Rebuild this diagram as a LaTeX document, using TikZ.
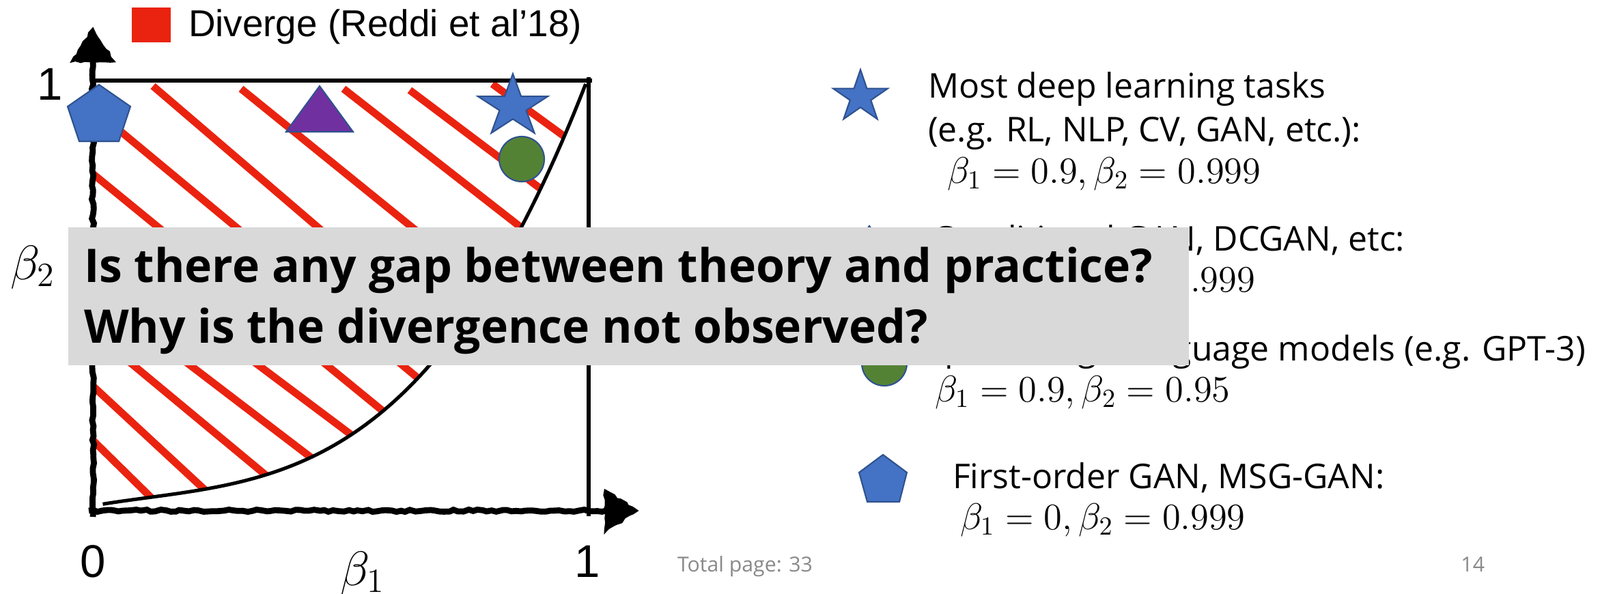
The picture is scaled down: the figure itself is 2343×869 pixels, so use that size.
\RequirePackage{fix-cm}
\documentclass[tikz,border=0pt]{standalone}
\usepackage[no-math]{fontspec}
\setmainfont{Liberation Sans}
\newfontfamily\osfont{Open Sans}
\usetikzlibrary{decorations.pathmorphing}
\definecolor{divred}{RGB}{234,35,16}
\definecolor{pblue}{RGB}{68,114,196}
\definecolor{pborder}{RGB}{47,82,143}
\definecolor{ppurple}{RGB}{112,48,160}
\definecolor{pgreen}{RGB}{84,130,53}
\definecolor{boxgrey}{RGB}{217,217,217}
\definecolor{footgrey}{RGB}{137,137,137}
\newcommand\drawstar[4]{%
  \filldraw[shapeline, fill=pblue] plot[samples at={0,...,9}, variable=\k]
   ({#1+#4*#3*(1-0.618*mod(\k,2))*cos(90+36*\k)},{#2-#3*(1-0.618*mod(\k,2))*sin(90+36*\k)}) -- cycle;}
\begin{document}
\begin{tikzpicture}[x=0.01cm,y=-0.01cm,
  txt/.style={inner sep=0pt, outer sep=0pt},
  stripe/.style={draw=divred, line width=3.1pt, line cap=butt},
  shapeline/.style={draw=pborder, line width=0.6pt, line join=miter},
  roughline/.style={draw=black, line width=2.5pt, decorate, decoration={random steps, segment length=2pt, amplitude=0.45pt}},
  roughfill/.style={fill=black, draw=black, line width=0.8pt, decorate, decoration={random steps, segment length=2pt, amplitude=0.5pt}},
  legtxt/.style={txt, font=\osfont\fontsize{14.2pt}{17pt}\selectfont},
  legmath/.style={txt, font=\fontsize{15.5pt}{18pt}\selectfont},
  axnum/.style={txt, font=\fontsize{19.1pt}{22pt}\selectfont},
  axsym/.style={txt, font=\fontsize{20.2pt}{24pt}\selectfont},
  qtxt/.style={txt, font=\osfont\bfseries\fontsize{19.3pt}{23pt}\selectfont},
  foot/.style={txt, text=footgrey, font=\osfont\fontsize{8.6pt}{10pt}\selectfont}
]
\useasboundingbox (0,0) rectangle (2343,869);
\fill[white] (0,0) rectangle (2343,869);

% legend of the chart
\fill[divred] (193,11) rectangle (250,62);
\node[txt, anchor=base west, font=\fontsize{15.6pt}{18pt}\selectfont] (leg) at (276,53) {Diverge (Reddi et al’18)};

% stripes of the diverging region
\begin{scope}
\clip (138,121) -- (870,121) -- (870,128)
  -- plot[domain=0.99:0.0, samples=80] ({136+726*\x},{747-629*(0.01+\x^3+0.2*\x*(1-\x)^2)})
  -- (138,741) -- cycle;
\draw[stripe] (128,637) -- (250,757);
\draw[stripe] (128,558) -- (320,736);
\draw[stripe] (128,479) -- (405,709);
\draw[stripe] (128,420) -- (475,685);
\draw[stripe] (128,347) -- (540,656);
\draw[stripe] (128,248) -- (590,626);
\draw[stripe] (128,152) -- (640,577);
\draw[stripe] (224,126) -- (720,551);
\draw[stripe] (353,130) -- (780,476);
\draw[stripe] (503,130) -- (800,362);
\draw[stripe] (600,132) -- (815,294);
\draw[stripe] (721,123) -- (850,217);
\end{scope}

% boundary curve
\draw[line width=1.45pt] plot[domain=0.02:0.995, samples=80] ({136+726*\x},{747-629*(0.01+\x^3+0.2*\x*(1-\x)^2)});

% frame lines
\draw[line width=1.9pt] (136,118) -- (867,118);
\draw[line width=1.5pt] (862,113) -- (862,756);

% axes
\draw[roughline] (136,757) -- (136,88);
\filldraw[roughfill] (136,42) -- (167,90) -- (105,90) -- cycle;
\draw[roughline] (130,748) -- (888,748);
\filldraw[roughfill] (933,748) -- (886,718) -- (886,779) -- cycle;

% markers in the chart
\filldraw[shapeline, fill=pblue] (145,124) -- (191,156) -- (174,207) -- (116,207) -- (99,156) -- cycle;
\filldraw[shapeline, fill=ppurple] (468,126) -- (517,193) -- (419,193) -- cycle;
\drawstar{751}{156}{48}{1.12}
\filldraw[shapeline, fill=pgreen] (764,233) circle[radius=33];

% axis labels
\node[axnum, anchor=base east] (y1) at (92,146) {1};
\node[axnum, anchor=base] (x0) at (136,845) {0};
\node[axnum, anchor=base] (x1) at (860,845) {1};
\node[axsym, anchor=base west] (b2) at (15,409) {$\beta_2$};
\node[axsym, anchor=base west] (b1) at (498,857) {$\beta_1$};

% right-hand legend
\drawstar{1260}{142}{40}{1.05}
\node[legtxt, anchor=base west] (t1a) at (1359,143) {Most deep learning tasks};
\node[legtxt, anchor=base west] (t1b) at (1359,207) {(e.g. RL, NLP, CV, GAN, etc.):};
\node[legmath, anchor=base west] (m1) at (1387,268) {$\beta_1 = 0.9, \beta_2 = 0.999$};

\filldraw[shapeline, fill=ppurple] (1273,331) -- (1314,388) -- (1232,388) -- cycle;
\node[legtxt, anchor=base east] (t2a) at (2057,367) {Conditional GAN, DCGAN, etc:};
\node[legmath, anchor=base east] (m2) at (1838,427) {$\beta_1 = 0.5, \beta_2 = 0.999$};

\filldraw[shapeline, fill=pgreen] (1295,532) circle[radius=33];
\node[legtxt, anchor=base east] (t3a) at (2322,528) {Popular large language models (e.g. GPT-3)};
\node[legmath, anchor=base west] (m3) at (1369,588) {$\beta_1 = 0.9, \beta_2 = 0.95$};

\filldraw[shapeline, fill=pblue] (1293,666) -- (1328,692) -- (1317,735) -- (1270,735) -- (1258,692) -- cycle;
\node[legtxt, anchor=base west] (t4a) at (1395,715) {First-order GAN, MSG-GAN:};
\node[legmath, anchor=base west] (m4) at (1406,775) {$\beta_1 = 0, \beta_2 = 0.999$};

% question box
\fill[boxgrey] (100,333) rectangle (1741,535);
\node[qtxt, anchor=base west] (q1) at (123,413) {Is there any gap between theory and practice?};
\node[qtxt, anchor=base west] (q2) at (123,502) {Why is the divergence not observed?};

% footer
\node[foot, anchor=base west] (tp) at (992,837) {Total page: 33};
\node[foot, anchor=base east] (pg) at (2174,837) {14};
\end{tikzpicture}
\end{document}
